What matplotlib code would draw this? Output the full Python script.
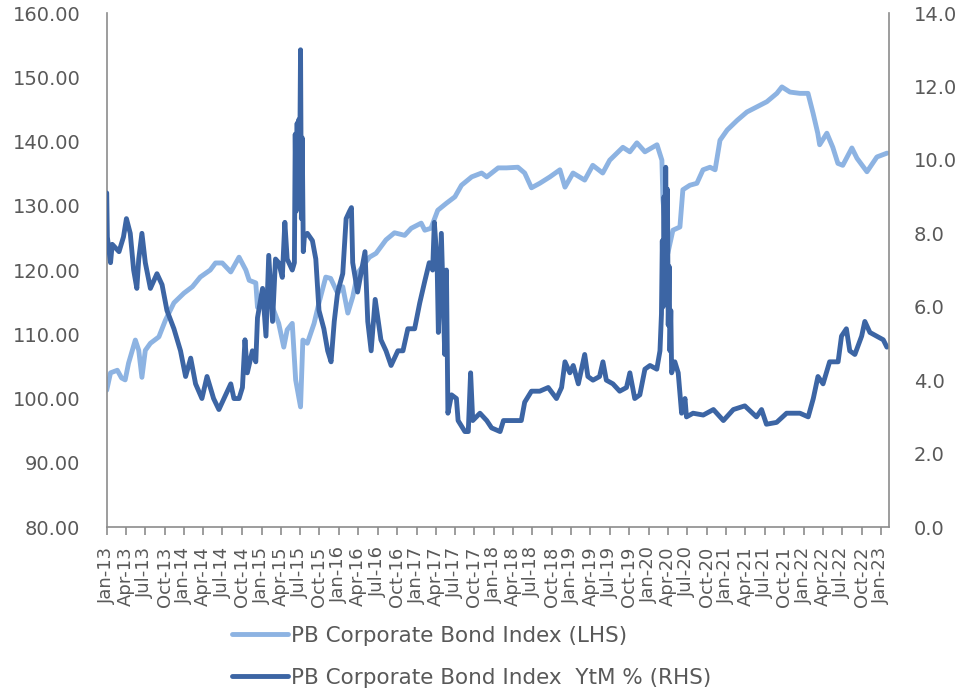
import pandas as pd
import matplotlib
matplotlib.use('Agg')
from matplotlib import pyplot as plt
import matplotlib.dates as mdates
from matplotlib.ticker import FormatStrFormatter, MultipleLocator

# PB Corporate Bond Index level (left axis)
index_dates = ['2013-01-01', '2013-01-19', '2013-02-20', '2013-03-12', '2013-03-29', '2013-04-14',
               '2013-05-16', '2013-06-01', '2013-06-16', '2013-07-02', '2013-07-26', '2013-09-04',
               '2013-10-05', '2013-11-14', '2013-12-31', '2014-02-09', '2014-03-18', '2014-05-04',
               '2014-05-29', '2014-06-30', '2014-08-09', '2014-09-17', '2014-10-19', '2014-11-04',
               '2014-12-05', '2014-12-13', '2015-01-06', '2015-02-22', '2015-03-23', '2015-04-16',
               '2015-05-02', '2015-05-26', '2015-06-11', '2015-07-04', '2015-07-15', '2015-08-05',
               '2015-09-06', '2015-09-29', '2015-10-31', '2015-11-23', '2015-12-26', '2016-01-19',
               '2016-02-12', '2016-03-06', '2016-03-29', '2016-05-24', '2016-06-24', '2016-08-10',
               '2016-09-19', '2016-11-06', '2016-12-07', '2017-01-23', '2017-02-09', '2017-03-10',
               '2017-04-11', '2017-05-22', '2017-07-01', '2017-08-01', '2017-09-18', '2017-11-04',
               '2017-11-28', '2018-01-21', '2018-03-01', '2018-04-24', '2018-05-26', '2018-06-27',
               '2018-08-05', '2018-09-22', '2018-11-08', '2018-12-02', '2019-01-09', '2019-03-05',
               '2019-04-12', '2019-05-29', '2019-07-01', '2019-09-01', '2019-10-04', '2019-11-06',
               '2019-12-14', '2020-02-09', '2020-03-03', '2020-03-08', '2020-03-31', '2020-04-24',
               '2020-05-27', '2020-06-10', '2020-07-13', '2020-08-15', '2020-09-13', '2020-10-16',
               '2020-11-09', '2020-12-02', '2021-01-05', '2021-02-21', '2021-04-08', '2021-05-25',
               '2021-07-11', '2021-08-27', '2021-09-20', '2021-10-28', '2021-12-14', '2022-01-21',
               '2022-02-14', '2022-03-08', '2022-03-17', '2022-04-20', '2022-05-18', '2022-06-11',
               '2022-07-04', '2022-08-16', '2022-09-09', '2022-10-26', '2022-12-12', '2023-01-29']
index_values = [101.3, 104.0, 104.4, 103.2, 102.9, 105.5,
                109.1, 107.5, 103.3, 107.5, 108.6, 109.6,
                112.2, 114.9, 116.4, 117.4, 118.9, 120.0,
                121.1, 121.1, 119.7, 122.0, 120.0, 118.4,
                118.0, 114.2, 116.4, 114.2, 111.7, 108.0,
                110.7, 111.7, 102.9, 98.7, 109.1, 108.6,
                111.7, 114.9, 118.9, 118.7, 116.4, 117.4,
                113.3, 115.8, 119.5, 122.0, 122.6, 124.7,
                125.8, 125.4, 126.5, 127.3, 126.2, 126.5,
                129.3, 130.4, 131.4, 133.2, 134.5, 135.1,
                134.5, 135.9, 135.9, 136.0, 135.1, 132.8,
                133.5, 134.5, 135.6, 132.9, 135.1, 134.0,
                136.3, 135.1, 137.1, 139.1, 138.4, 139.8,
                138.4, 139.5, 137.1, 130.9, 122.6, 126.2,
                126.7, 132.5, 133.2, 133.5, 135.6, 136.0,
                135.6, 140.2, 141.8, 143.3, 144.6, 145.4,
                146.2, 147.5, 148.5, 147.7, 147.5, 147.5,
                144.4, 141.3, 139.5, 141.3, 139.1, 136.6,
                136.3, 139.0, 137.4, 135.3, 137.6, 138.2]

# Yield to maturity in % (right axis)
ytm_dates = ['2013-01-01', '2013-01-04', '2013-01-19', '2013-01-27', '2013-02-28', '2013-03-21',
             '2013-04-04', '2013-04-22', '2013-05-08', '2013-05-23', '2013-06-01', '2013-06-16',
             '2013-07-02', '2013-07-26', '2013-08-26', '2013-09-19', '2013-10-12', '2013-11-14',
             '2013-12-15', '2014-01-08', '2014-02-01', '2014-02-24', '2014-03-26', '2014-04-19',
             '2014-05-20', '2014-06-14', '2014-07-08', '2014-08-09', '2014-08-24', '2014-09-17',
             '2014-10-03', '2014-10-15', '2014-10-26', '2014-11-19', '2014-12-05', '2014-12-13',
             '2015-01-06', '2015-01-22', '2015-02-04', '2015-02-22', '2015-03-08', '2015-03-23',
             '2015-04-09', '2015-04-21', '2015-05-02', '2015-05-26', '2015-06-05', '2015-06-09',
             '2015-06-13', '2015-06-18', '2015-06-22', '2015-06-26', '2015-06-30', '2015-07-04',
             '2015-07-08', '2015-07-12', '2015-07-17', '2015-07-22', '2015-08-05', '2015-08-29',
             '2015-09-14', '2015-09-29', '2015-10-22', '2015-11-09', '2015-11-25', '2015-12-10',
             '2015-12-26', '2016-01-19', '2016-02-04', '2016-02-20', '2016-02-29', '2016-03-06',
             '2016-03-29', '2016-04-14', '2016-05-03', '2016-05-16', '2016-06-01', '2016-06-20',
             '2016-07-17', '2016-08-10', '2016-09-03', '2016-10-05', '2016-10-29', '2016-11-21',
             '2016-12-23', '2017-01-16', '2017-02-09', '2017-03-02', '2017-03-18', '2017-03-26',
             '2017-04-08', '2017-04-14', '2017-04-28', '2017-05-14', '2017-05-22', '2017-05-29',
             '2017-06-15', '2017-07-08', '2017-07-16', '2017-08-17', '2017-09-02', '2017-09-13',
             '2017-09-23', '2017-10-27', '2017-11-28', '2017-12-21', '2018-01-30', '2018-02-15',
             '2018-04-01', '2018-05-10', '2018-05-26', '2018-06-27', '2018-08-05', '2018-09-14',
             '2018-10-23', '2018-11-16', '2018-12-02', '2018-12-25', '2019-01-10', '2019-02-03',
             '2019-03-05', '2019-03-20', '2019-04-13', '2019-05-14', '2019-05-30', '2019-06-15',
             '2019-07-16', '2019-08-17', '2019-09-18', '2019-10-04', '2019-10-27', '2019-11-20',
             '2019-12-14', '2020-01-07', '2020-02-08', '2020-02-23', '2020-03-01', '2020-03-05',
             '2020-03-09', '2020-03-13', '2020-03-17', '2020-03-21', '2020-03-25', '2020-03-29',
             '2020-04-02', '2020-04-06', '2020-04-10', '2020-04-14', '2020-04-18', '2020-05-03',
             '2020-05-19', '2020-06-04', '2020-06-20', '2020-06-27', '2020-07-28', '2020-09-14',
             '2020-11-01', '2020-12-18', '2021-02-03', '2021-03-29', '2021-05-23', '2021-06-16',
             '2021-07-09', '2021-08-26', '2021-10-12', '2021-12-14', '2022-01-22', '2022-02-15',
             '2022-03-09', '2022-04-02', '2022-05-03', '2022-06-12', '2022-06-28', '2022-07-21',
             '2022-08-06', '2022-08-30', '2022-10-01', '2022-10-16', '2022-11-09', '2022-12-10',
             '2023-01-11', '2023-01-28']
ytm_values = [9.1, 7.9, 7.2, 7.7, 7.5, 7.9,
              8.4, 8.0, 7.0, 6.5, 7.3, 8.0,
              7.2, 6.5, 6.9, 6.6, 5.9, 5.4,
              4.8, 4.1, 4.6, 3.9, 3.5, 4.1,
              3.5, 3.2, 3.5, 3.9, 3.5, 3.5,
              3.8, 5.1, 4.2, 4.8, 4.5, 5.7,
              6.5, 5.2, 7.4, 5.6, 7.3, 7.2,
              6.8, 8.3, 7.3, 7.0, 7.2, 10.7,
              8.6, 11.0, 9.2, 11.1, 9.8, 13.0,
              8.4, 10.6, 7.5, 7.9, 8.0, 7.8,
              7.3, 5.9, 5.4, 4.8, 4.5, 5.6,
              6.4, 6.9, 8.4, 8.6, 8.7, 7.2,
              6.4, 6.9, 7.5, 5.6, 4.8, 6.2,
              5.1, 4.8, 4.4, 4.8, 4.8, 5.4,
              5.4, 6.1, 6.7, 7.2, 7.0, 8.3,
              7.2, 5.3, 8.0, 4.7, 7.0, 3.1,
              3.6, 3.5, 2.9, 2.6, 2.6, 4.2,
              2.9, 3.1, 2.9, 2.7, 2.6, 2.9,
              2.9, 2.9, 3.4, 3.7, 3.7, 3.8,
              3.5, 3.8, 4.5, 4.2, 4.4, 3.9,
              4.7, 4.1, 4.0, 4.1, 4.5, 4.0,
              3.9, 3.7, 3.8, 4.2, 3.5, 3.6,
              4.3, 4.4, 4.3, 4.8, 5.8, 7.8,
              6.0, 9.0, 6.8, 9.8, 7.0, 9.2,
              5.5, 7.1, 4.8, 5.9, 4.2, 4.5,
              4.2, 3.1, 3.5, 3.0, 3.1, 3.05,
              3.2, 2.9, 3.2, 3.3, 3.0, 3.2,
              2.8, 2.85, 3.1, 3.1, 3.0, 3.5,
              4.1, 3.9, 4.5, 4.5, 5.2, 5.4,
              4.8, 4.7, 5.2, 5.6, 5.3, 5.2,
              5.1, 4.9]

index_label = 'PB Corporate Bond Index (LHS)'
ytm_label = 'PB Corporate Bond Index  YtM % (RHS)'

light_blue = '#8DB3E2'
dark_blue = '#3C65A4'
axis_grey = '#8C8C8C'
text_grey = '#595959'

idx = pd.Series(index_values, index=pd.to_datetime(index_dates))
ytm = pd.Series(ytm_values, index=pd.to_datetime(ytm_dates))

fig = plt.figure(figsize=(9.64, 6.94), dpi=100)
ax = fig.add_axes([0.1107, 0.2406, 0.8115, 0.7406])
ax2 = ax.twinx()

line_kw = dict(linewidth=3.5, solid_joinstyle='round', solid_capstyle='round')
l1, = ax.plot(idx.index, idx.values, color=light_blue, label=index_label, **line_kw)
l2, = ax2.plot(ytm.index, ytm.values, color=dark_blue, label=ytm_label, **line_kw)

ax.set_xlim(pd.Timestamp('2013-01-01'), pd.Timestamp('2023-02-07'))
ax.set_ylim(80, 160)
ax2.set_ylim(0, 14)
ax.yaxis.set_major_locator(MultipleLocator(10))
ax2.yaxis.set_major_locator(MultipleLocator(2))
ax.yaxis.set_major_formatter(FormatStrFormatter('%.2f'))
ax2.yaxis.set_major_formatter(FormatStrFormatter('%.1f'))

ax.xaxis.set_major_locator(mdates.MonthLocator(bymonth=[1, 4, 7, 10]))
ax.xaxis.set_major_formatter(mdates.DateFormatter('%b-%y'))

for a in (ax, ax2):
    a.spines['top'].set_visible(False)
    for s in ('left', 'right', 'bottom'):
        a.spines[s].set_color(axis_grey)
        a.spines[s].set_linewidth(1.2)
ax.spines['right'].set_visible(False)
ax2.spines['left'].set_visible(False)
ax2.spines['bottom'].set_visible(False)

ax.tick_params(axis='x', direction='out', length=6, width=1.2, color=axis_grey,
               labelsize=13, labelcolor=text_grey, labelrotation=90, pad=8)
ax.tick_params(axis='y', length=0, labelsize=14, labelcolor=text_grey, pad=19)
ax2.tick_params(axis='y', length=0, labelsize=14, labelcolor=text_grey, pad=18)

fig.legend(handles=[l1, l2], loc='upper left', bbox_to_anchor=(232 / 964, 1 - 626 / 694),
           bbox_transform=fig.transFigure, frameon=False, fontsize=15.5, labelcolor=text_grey,
           handlelength=2.6, handletextpad=0.15, labelspacing=1.0, borderpad=0,
           borderaxespad=0)

plt.savefig('out.png', dpi=100)
